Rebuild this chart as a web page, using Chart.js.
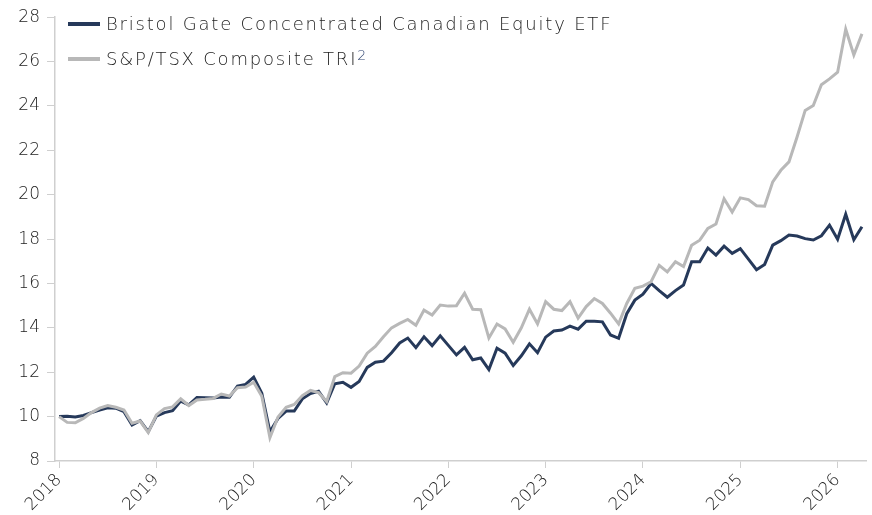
<!DOCTYPE html>
<html>
<head>
<meta charset="utf-8">
<script src="https://cdn.jsdelivr.net/npm/chart.js@4.4.1/dist/chart.umd.min.js"></script>
<style>
  body { margin: 0; background: #fff; }
  #wrap { position: relative; width: 872px; height: 515px; }
  #legend {
    position: absolute; left: 68px; top: 6px;
    font-family: "DejaVu Sans", sans-serif; font-weight: 200;
    font-size: 18px; letter-spacing: 1.8px; color: #1e1e1e; line-height: 35px;
  }
  #legend .row { display: flex; align-items: center; white-space: nowrap; }
  #legend .sw { width: 32px; height: 4px; margin-right: 6px; }
  #legend sup { font-size: 14px; color: #2f4470; position: relative; top: -3px; }
</style>
</head>
<body>
<div id="wrap">
  <canvas id="chart" width="872" height="515"></canvas>
  <div id="legend"></div>
</div>
<script>
// monthly values, Jan 2018 .. Apr 2026
var startYear = 2018;
var yearTicks = [2018, 2019, 2020, 2021, 2022, 2023, 2024, 2025, 2026];
var yTicks = [8, 10, 12, 14, 16, 18, 20, 22, 24, 26, 28];

var bristolName = 'Bristol Gate Concentrated Canadian Equity ETF';
var bristol = [
  10.0, 10.02, 9.98, 10.05, 10.18, 10.3, 10.4, 10.38, 10.22, 9.62, 9.82, 9.32,
  10.02, 10.18, 10.27, 10.7, 10.53, 10.86, 10.85, 10.84, 10.88, 10.87, 11.38, 11.45,
  11.78, 11.05, 9.32, 9.92, 10.25, 10.25, 10.8, 11.04, 11.14, 10.62, 11.48, 11.55,
  11.32, 11.58, 12.22, 12.45, 12.5, 12.88, 13.32, 13.54, 13.11, 13.6, 13.2, 13.64,
  13.21, 12.78, 13.12, 12.56, 12.64, 12.12, 13.08, 12.86, 12.3, 12.74, 13.28, 12.88,
  13.58, 13.86, 13.9, 14.08, 13.94, 14.3, 14.3, 14.27, 13.68, 13.53, 14.64, 15.25,
  15.52, 16.0, 15.68, 15.38, 15.68, 15.93, 16.98, 16.98, 17.6, 17.28, 17.68, 17.36,
  17.57, 17.1, 16.62, 16.86, 17.73, 17.93, 18.18, 18.14, 18.02, 17.96, 18.15, 18.63,
  17.99, 19.12, 17.97, 18.56
];

var tsxName = 'S&P/TSX Composite TRI';
var tsx = [
  10.0, 9.74, 9.72, 9.92, 10.18, 10.38, 10.5, 10.42, 10.3, 9.7, 9.8, 9.28,
  10.08, 10.36, 10.44, 10.8, 10.5, 10.75, 10.78, 10.82, 11.02, 10.93, 11.3, 11.33,
  11.55, 10.92, 9.05, 9.98, 10.42, 10.55, 10.95, 11.18, 11.08, 10.68, 11.8, 11.98,
  11.96, 12.28, 12.86, 13.16, 13.6, 14.0, 14.2, 14.38, 14.12, 14.8, 14.58, 15.03,
  14.98, 15.0, 15.56, 14.84, 14.82, 13.54, 14.17, 13.95, 13.35, 14.0, 14.84, 14.18,
  15.18, 14.84, 14.78, 15.18, 14.44, 14.96, 15.32, 15.1, 14.66, 14.18, 15.1, 15.78,
  15.88, 16.08, 16.82, 16.52, 16.98, 16.76, 17.72, 17.95, 18.48, 18.68, 19.82, 19.22,
  19.86, 19.78, 19.5, 19.48, 20.58, 21.1, 21.48, 22.6, 23.8, 24.02, 24.96, 25.22,
  25.52, 27.46, 26.3, 27.25
];

var navy = '#26395a';
var grey = '#b8b8b8';
var axisColor = '#cfcfcf';
var font = { family: '"DejaVu Sans", sans-serif', size: 17, weight: 200 };

function toPoints(arr) {
  return arr.map(function(v, i) { return { x: i, y: v }; });
}

// legend as html so it can sit over the plot
var legend = document.getElementById('legend');
legend.innerHTML =
  '<div class="row"><span class="sw" style="background:' + navy + '"></span>' + bristolName + '</div>' +
  '<div class="row"><span class="sw" style="background:' + grey + '"></span>' + tsxName.replace('&', '&amp;') + '<sup>2</sup></div>';

new Chart(document.getElementById('chart').getContext('2d'), {
  type: 'line',
  data: {
    datasets: [{
      label: bristolName,
      data: toPoints(bristol),
      borderColor: navy,
      borderWidth: 3,
      pointRadius: 0,
      order: 1
    }, {
      label: tsxName,
      data: toPoints(tsx),
      borderColor: grey,
      borderWidth: 3,
      pointRadius: 0,
      order: 0
    }]
  },
  options: {
    responsive: false,
    animation: false,
    layout: { padding: { top: 15, right: 6, left: 0, bottom: 0 } },
    plugins: { legend: { display: false }, tooltip: { enabled: false } },
    scales: {
      x: {
        type: 'linear',
        min: -0.5,
        max: 99.5,
        afterBuildTicks: function(axis) {
          axis.ticks = yearTicks.map(function(y) { return { value: (y - startYear) * 12 }; });
        },
        afterFit: function(axis) { axis.height = 54; },
        ticks: {
          color: '#222',
          font: font,
          minRotation: 45,
          maxRotation: 45,
          padding: 2,
          callback: function(v) { return String(startYear + Math.round(v / 12)); }
        },
        grid: { drawOnChartArea: false, color: axisColor, tickLength: 7 },
        border: { color: axisColor, width: 1.5 }
      },
      y: {
        min: 8,
        max: 28,
        afterBuildTicks: function(axis) {
          axis.ticks = yTicks.map(function(v) { return { value: v }; });
        },
        afterFit: function(axis) { axis.width = 55; },
        ticks: { color: '#222', font: font, padding: 7 },
        grid: { drawOnChartArea: false, color: axisColor, tickLength: 8 },
        border: { color: axisColor, width: 1.5 }
      }
    }
  }
});
</script>
</body>
</html>
